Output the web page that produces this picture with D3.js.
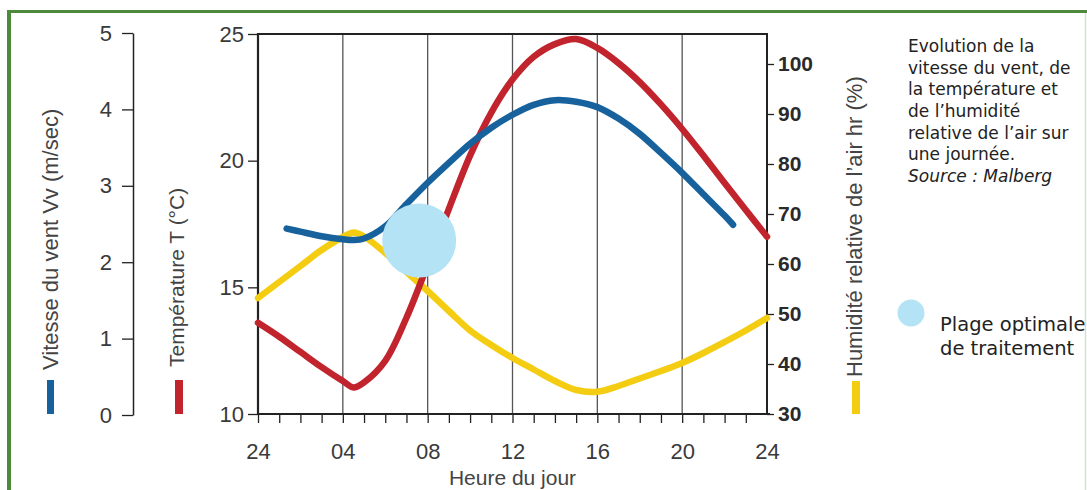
<!DOCTYPE html>
<html><head><meta charset="utf-8">
<script src="https://cdn.jsdelivr.net/npm/d3@7"></script>
<style>
html,body{margin:0;padding:0;background:#fff;}
svg{display:block;}
</style></head>
<body>
<svg id="chart" width="1087" height="490"></svg>
<script>
// ---- data ----
const hourTicks = [0,4,8,12,16,20,24];
const hourLabels = ["24","04","08","12","16","20","24"];
const windTicks = [0,1,2,3,4,5];
const tempTicks = [10,15,20,25];
const humTicks = [30,40,50,60,70,80,90,100];

const tempHours = [0,1,2,3,4,4.5,5,6,7,8,9,10,11,12,13,14,15,16,17,18,19,20,21,22,23,24];
const temperature = [13.6,13.05,12.45,11.85,11.3,11.05,11.25,12.1,13.8,15.9,18.1,20.2,21.9,23.2,24.1,24.6,24.8,24.45,23.85,23.1,22.22,21.25,20.2,19.12,18.05,17.0];

const windHours = [1.35,2,3,4,4.5,5,6,7,8,9,10,11,12,13,14,15,16,17,18,19,20,21,22,22.4];
const wind = [2.44,2.40,2.34,2.30,2.29,2.31,2.47,2.76,3.04,3.30,3.55,3.76,3.93,4.06,4.12,4.10,4.03,3.88,3.68,3.43,3.17,2.89,2.61,2.49];

const humHours = [0,1,2,3,4,4.5,5,6,7,8,9,10,11,12,13,14,15,16,17,18,19,20,21,22,23,24];
const humidity = [53.2,56.4,59.6,62.8,65.4,66.3,65.5,62.2,58.4,54.6,50.6,46.7,43.8,41.2,38.9,36.6,34.8,34.45,35.6,37.1,38.6,40.2,42.2,44.4,46.7,49.2];

const optimal = {hour: 7.6, temp: 16.85};

const annotation = ["Evolution de la","vitesse du vent, de","la température et","de l\u2019humidité","relative de l\u2019air sur","une journée."];
const source = "Source : Malberg";
const legendLines = ["Plage optimale","de traitement"];

// ---- drawing ----
const svg = d3.select("#chart");
const X0 = 258, X1 = 767, YT = 34, YB = 414;
const C = {wind:"#17629c", temp:"#c1242c", hum:"#f4cd12", spot:"#b3e3f5", frame:"#222", grid:"#555", text:"#3a3a3a", green:"#4e8a3c"};
const AX = "'Liberation Sans', Arial, sans-serif";
const DV = "'DejaVu Sans', Verdana, sans-serif";

const x = d3.scaleLinear().domain([0,24]).range([X0,X1]);
const yT = d3.scaleLinear().domain([10,25]).range([YB,YT]);
const yV = d3.scaleLinear().domain([0,5]).range([YB+1,YT-1]);
const yH = d3.scaleLinear().domain([30,100]).range([YB,YB-350]);

// green frame
svg.append("line").attr("x1",9).attr("x2",9).attr("y1",10).attr("y2",490).attr("stroke",C.green).attr("stroke-width",4);
svg.append("line").attr("x1",7).attr("x2",1087).attr("y1",11.5).attr("y2",11.5).attr("stroke",C.green).attr("stroke-width",3);
svg.append("line").attr("x1",1085.5).attr("x2",1085.5).attr("y1",13).attr("y2",490).attr("stroke","#d3e3cc").attr("stroke-width",1.5);

// vertical grid lines
svg.append("g").selectAll("line").data(hourTicks.slice(1,-1)).join("line")
  .attr("x1",d=>x(d)).attr("x2",d=>x(d)).attr("y1",YT).attr("y2",YB)
  .attr("stroke",C.grid).attr("stroke-width",1.3);

// bottom axis (hourly ticks)
const hours = d3.range(0,24);
const gx = svg.append("g").attr("transform",`translate(0,${YB})`)
  .call(d3.axisBottom(x).tickValues(hours).tickSize(9).tickFormat("").tickSizeOuter(0));
gx.select(".domain").remove();
gx.selectAll(".tick line").attr("stroke",C.frame).attr("stroke-width",1.3);
const gxl = svg.append("g").attr("transform",`translate(0,${YB})`)
  .call(d3.axisBottom(x).tickValues(hourTicks).tickSize(0).tickPadding(29).tickFormat((d,i)=>hourLabels[i]));
gxl.select(".domain").remove();
gxl.selectAll("text").attr("font-family",AX).attr("font-size",22).attr("fill",C.text);

// plot frame
svg.append("line").attr("x1",X0).attr("x2",X1+3).attr("y1",YB).attr("y2",YB).attr("stroke",C.frame).attr("stroke-width",2.2);
svg.append("line").attr("x1",X0).attr("x2",X1).attr("y1",YT).attr("y2",YT).attr("stroke",C.frame).attr("stroke-width",2);
svg.append("line").attr("x1",X0).attr("x2",X0).attr("y1",YT-1).attr("y2",YB).attr("stroke",C.frame).attr("stroke-width",2.2);
svg.append("line").attr("x1",X1).attr("x2",X1).attr("y1",YT-1).attr("y2",YB).attr("stroke",C.frame).attr("stroke-width",2);

// temperature axis
const gT = svg.append("g").attr("transform",`translate(${X0},0)`)
  .call(d3.axisLeft(yT).tickValues(tempTicks).tickSize(10).tickPadding(4).tickSizeOuter(0));
gT.select(".domain").remove();
gT.selectAll(".tick line").attr("stroke",C.frame).attr("stroke-width",1.3);
gT.selectAll("text").attr("font-family",AX).attr("font-size",22).attr("fill",C.text);

// wind axis
const gV = svg.append("g").attr("transform",`translate(133,0)`)
  .call(d3.axisLeft(yV).tickValues(windTicks).tickFormat(d3.format("d")).tickSize(11).tickPadding(10).tickSizeOuter(0));
gV.select(".domain").attr("stroke",C.frame).attr("stroke-width",1.5);
gV.selectAll(".tick line").attr("stroke",C.frame).attr("stroke-width",1.3);
gV.selectAll("text").attr("font-family",AX).attr("font-size",22).attr("fill",C.text);

// humidity axis
const gH = svg.append("g").attr("transform",`translate(${X1},0)`)
  .call(d3.axisRight(yH).tickValues(humTicks).tickSize(7).tickPadding(4).tickSizeOuter(0));
gH.select(".domain").remove();
gH.selectAll(".tick line").attr("stroke",C.frame).attr("stroke-width",1.3);
gH.selectAll("text").attr("font-family",AX).attr("font-size",21).attr("font-weight","bold").attr("fill","#2a2a2a");

// axis titles + colour keys
function vtitle(tx,ty,txt,size){
  svg.append("text").attr("transform",`translate(${tx},${ty}) rotate(-90)`)
    .attr("font-family",AX).attr("font-size",size).attr("fill","#444").text(txt);
}
vtitle(58,370,"Vitesse du vent Vv (m/sec)",22);
vtitle(184,367,"Température T (°C)",21);
vtitle(862,377,"Humidité relative de l\u2019air hr (%)",22);
svg.append("rect").attr("x",47).attr("y",380).attr("width",7).attr("height",34).attr("fill",C.wind);
svg.append("rect").attr("x",175).attr("y",380).attr("width",8).attr("height",34).attr("fill",C.temp);
svg.append("rect").attr("x",852).attr("y",381).attr("width",8).attr("height",33).attr("fill",C.hum);

svg.append("text").attr("x",(X0+X1)/2).attr("y",485).attr("text-anchor","middle")
  .attr("font-family",AX).attr("font-size",21).attr("fill","#444").text("Heure du jour");

// series
const line = (ys)=>d3.line().x(d=>x(d[0])).y(d=>ys(d[1])).curve(d3.curveCatmullRom.alpha(0.5));
function series(hrs,vals,ys,color){
  svg.append("path").datum(hrs.map((h,i)=>[h,vals[i]]))
    .attr("d",line(ys)).attr("fill","none").attr("stroke",color)
    .attr("stroke-width",6.5).attr("stroke-linecap","round").attr("stroke-linejoin","round");
}
series(humHours,humidity,yH,C.hum);
series(tempHours,temperature,yT,C.temp);
series(windHours,wind,yV,C.wind);

// optimal spot
svg.append("circle").attr("cx",x(optimal.hour)).attr("cy",yT(optimal.temp)).attr("r",37).attr("fill",C.spot);

// annotation
const ann = svg.append("text").attr("font-family",DV).attr("font-size",17).attr("fill","#222");
annotation.forEach((t,i)=>ann.append("tspan").attr("x",908).attr("y",52+i*21.67).text(t));
ann.append("tspan").attr("x",908).attr("y",52+6*21.67).attr("font-style","italic").text(source);

// legend
svg.append("circle").attr("cx",911).attr("cy",313).attr("r",13.5).attr("fill",C.spot);
const lg = svg.append("text").attr("font-family",DV).attr("font-size",19.5).attr("fill","#222");
legendLines.forEach((t,i)=>lg.append("tspan").attr("x",940).attr("y",331+i*24).text(t));
</script>
</body></html>
